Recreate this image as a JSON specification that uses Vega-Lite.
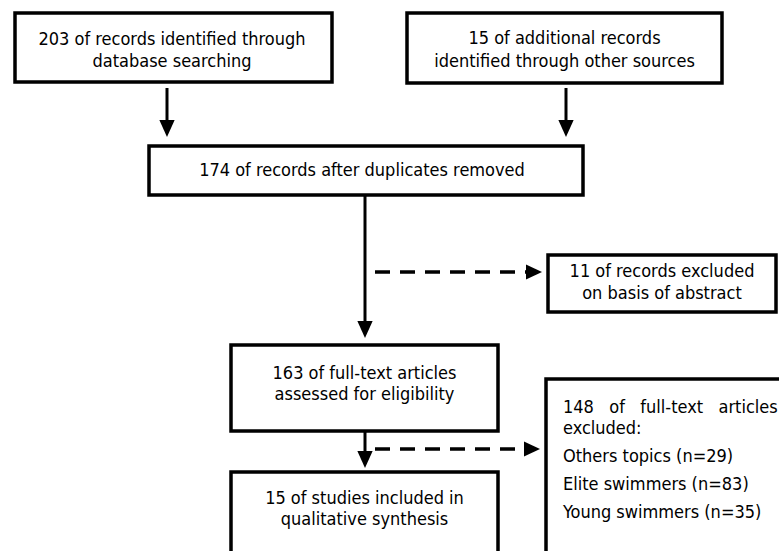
{
  "$schema": "https://vega.github.io/schema/vega-lite/v6.json",
  "width": 779,
  "height": 551,
  "autosize": {"type": "none"},
  "padding": 0,
  "background": "white",
  "config": {"view": {"stroke": null}, "axis": {"disable": true}},
  "datasets": {
    "boxes": [
      {"id": "b1", "x": 15, "x2": 332, "y": 13, "y2": 82},
      {"id": "b2", "x": 407, "x2": 722, "y": 13, "y2": 83},
      {"id": "b3", "x": 149, "x2": 583, "y": 146, "y2": 195},
      {"id": "b4", "x": 548, "x2": 776, "y": 255, "y2": 312},
      {"id": "b5", "x": 231, "x2": 498, "y": 345, "y2": 431},
      {"id": "b6", "x": 231, "x2": 498, "y": 472, "y2": 620},
      {"id": "b7", "x": 546, "x2": 820, "y": 379, "y2": 620}
    ],
    "solid": [
      {"x": 167, "y": 88, "x2": 167, "y2": 128},
      {"x": 566, "y": 88, "x2": 566, "y2": 128},
      {"x": 365, "y": 195, "x2": 365, "y2": 330},
      {"x": 365, "y": 431, "x2": 365, "y2": 460}
    ],
    "dashed": [
      {"x": 375, "y": 272, "x2": 532, "y2": 272},
      {"x": 375, "y": 449, "x2": 530, "y2": 449}
    ],
    "down": [
      {"x": 167, "y": 128.5},
      {"x": 566, "y": 128.5},
      {"x": 365, "y": 329.5},
      {"x": 365, "y": 459.5}
    ],
    "right": [
      {"x": 534, "y": 272},
      {"x": 532, "y": 449}
    ],
    "centered": [
      {"x": 172, "y": 40, "t": "203 of records identified through"},
      {"x": 172, "y": 62, "t": "database searching"},
      {"x": 564.5, "y": 39, "t": "15 of additional records"},
      {"x": 564.5, "y": 62, "t": "identified through other sources"},
      {"x": 362, "y": 171, "t": "174 of records after duplicates removed"},
      {"x": 662, "y": 272, "t": "11 of records excluded"},
      {"x": 662, "y": 294, "t": "on basis of abstract"},
      {"x": 364.5, "y": 374, "t": "163 of full-text articles"},
      {"x": 364.5, "y": 395, "t": "assessed for eligibility"},
      {"x": 364.5, "y": 499, "t": "15 of studies included in"},
      {"x": 364.5, "y": 520, "t": "qualitative synthesis"}
    ],
    "left": [
      {"x": 563, "y": 408, "t": "148\u00a0\u00a0\u00a0of\u00a0\u00a0\u00a0full-text\u00a0\u00a0\u00a0articles"},
      {"x": 563, "y": 429, "t": "excluded:"},
      {"x": 563, "y": 457, "t": "Others topics (n=29)"},
      {"x": 563, "y": 485, "t": "Elite swimmers (n=83)"},
      {"x": 563, "y": 513, "t": "Young swimmers (n=35)"}
    ]
  },
  "layer": [
    {
      "data": {"name": "boxes"},
      "mark": {"type": "rect", "fill": "white", "stroke": "black", "strokeWidth": 3.5},
      "encoding": {
        "x": {"field": "x", "type": "quantitative", "scale": {"domain": [0, 779], "nice": false, "zero": false}, "axis": null},
        "x2": {"field": "x2"},
        "y": {"field": "y", "type": "quantitative", "scale": {"domain": [0, 551], "nice": false, "zero": false, "reverse": true}, "axis": null},
        "y2": {"field": "y2"}
      }
    },
    {
      "data": {"name": "solid"},
      "mark": {"type": "rule", "stroke": "black", "strokeWidth": 3},
      "encoding": {
        "x": {"field": "x", "type": "quantitative"},
        "x2": {"field": "x2"},
        "y": {"field": "y", "type": "quantitative"},
        "y2": {"field": "y2"}
      }
    },
    {
      "data": {"name": "dashed"},
      "mark": {"type": "rule", "stroke": "black", "strokeWidth": 3.5, "strokeDash": [15, 10]},
      "encoding": {
        "x": {"field": "x", "type": "quantitative"},
        "x2": {"field": "x2"},
        "y": {"field": "y", "type": "quantitative"},
        "y2": {"field": "y2"}
      }
    },
    {
      "data": {"name": "down"},
      "mark": {"type": "point", "shape": "M-0.9,-1L0.9,-1L0,1Z", "size": 289, "filled": true, "color": "black", "opacity": 1, "strokeWidth": 0},
      "encoding": {
        "x": {"field": "x", "type": "quantitative"},
        "y": {"field": "y", "type": "quantitative"}
      }
    },
    {
      "data": {"name": "right"},
      "mark": {"type": "point", "shape": "M-1,-0.95L1,0L-1,0.95Z", "size": 256, "filled": true, "color": "black", "opacity": 1, "strokeWidth": 0},
      "encoding": {
        "x": {"field": "x", "type": "quantitative"},
        "y": {"field": "y", "type": "quantitative"}
      }
    },
    {
      "data": {"name": "centered"},
      "mark": {"type": "text", "align": "center", "baseline": "middle", "font": "DejaVu Sans Condensed", "fontSize": 18, "color": "black"},
      "encoding": {
        "x": {"field": "x", "type": "quantitative"},
        "y": {"field": "y", "type": "quantitative"},
        "text": {"field": "t"}
      }
    },
    {
      "data": {"name": "left"},
      "mark": {"type": "text", "align": "left", "baseline": "middle", "font": "DejaVu Sans Condensed", "fontSize": 18, "color": "black"},
      "encoding": {
        "x": {"field": "x", "type": "quantitative"},
        "y": {"field": "y", "type": "quantitative"},
        "text": {"field": "t"}
      }
    }
  ]
}
